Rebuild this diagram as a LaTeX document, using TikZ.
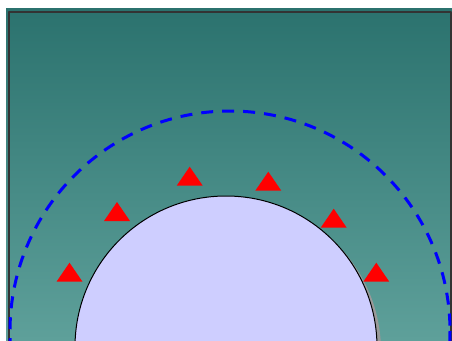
\documentclass[tikz,border=0pt]{standalone}
\usepackage{xcolor}
\usepackage{tikz}
\definecolor{tealtop}{RGB}{43,114,110}
\definecolor{tealbot}{RGB}{94,160,154}
\definecolor{lavender}{RGB}{206,206,255}
\definecolor{framegray}{RGB}{51,51,51}
\tikzset{
    wall/.style={draw=black,line width=1pt,fill=lavender},
    halo/.style={draw=blue,line width=3pt,dash pattern=on 12pt off 9pt},
    marker/.style={fill=red}
}

\begin{document}
\begin{tikzpicture}[x=1pt,y=-1pt, line join=round]
    \useasboundingbox (0,0) rectangle (452,340);
    \clip (0,0) rectangle (452,340);
    % background
    \shade[top color=tealtop,bottom color=tealbot] (6,8) rectangle (452,340);
    \draw[framegray,line width=2pt] (9,12) rectangle (451,346);
    % dashed ring
    \draw[halo] (230,331) circle[radius=220];
    % body with shadow
    \fill[gray!80] (230,351) circle[radius=151];
    \draw[wall] (226,347) circle[radius=151];
    % markers
    \foreach \x/\y in {69.5/281.7, 117/221, 189.7/185.7, 268.3/190.7, 333.7/227.7, 376.3/281.7} {
        \fill[marker] (\x-13,\y) -- (\x+13,\y) -- (\x,\y-19) -- cycle;
    }
\end{tikzpicture}
\end{document}
